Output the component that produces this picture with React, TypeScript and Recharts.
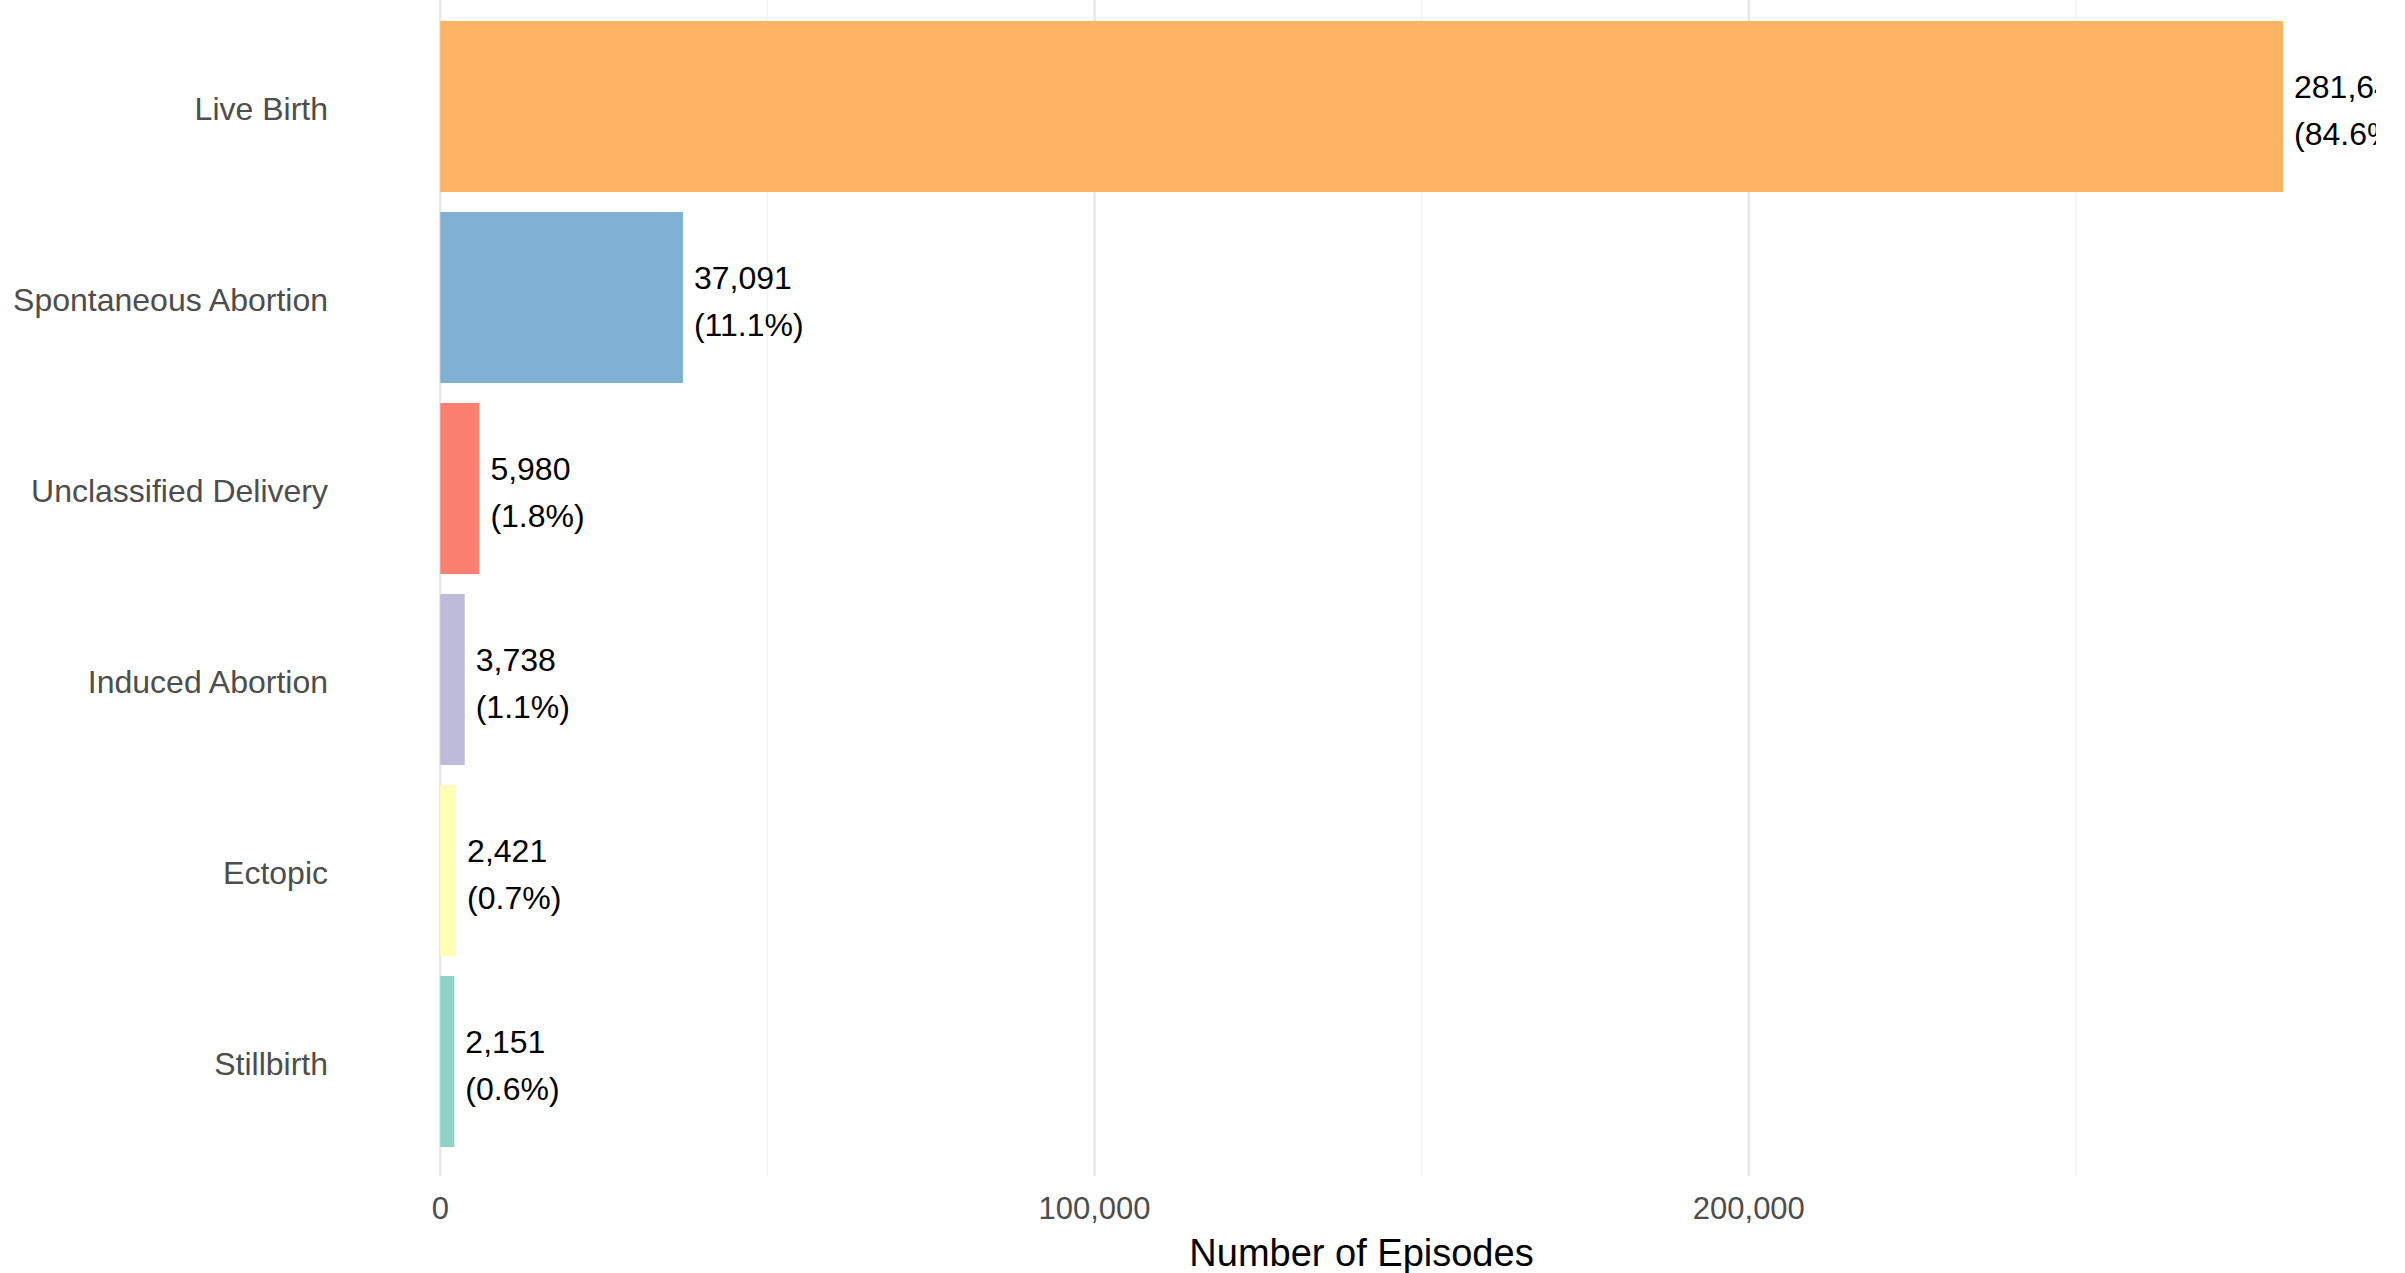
import { BarChart, Bar, XAxis, YAxis, CartesianGrid, Cell, LabelList } from 'recharts'

document.body.style.margin = '0'

const categories = ['Live Birth', 'Spontaneous Abortion', 'Unclassified Delivery', 'Induced Abortion', 'Ectopic', 'Stillbirth']
const episodes = [281642, 37091, 5980, 3738, 2421, 2151]
const percents = ['84.6%', '11.1%', '1.8%', '1.1%', '0.7%', '0.6%']
const barColors = ['#FDB462', '#80B1D3', '#FB8072', '#BEBADA', '#FFFFB3', '#8DD3C7']
const xTicks = [0, 50000, 100000, 150000, 200000, 250000]

const font = '"Liberation Sans", Arial, sans-serif'

const data = categories.map((name, i) => ({ name, episodes: episodes[i], pct: percents[i] }))

const fmt = (v: number) => v.toLocaleString('en-US')

// two-line value label to the right of each bar
const ValueLabel = (props: any) => {
  const { x, y, width, height, index } = props
  const cx = Number(x) + Number(width) + 11
  const cy = Number(y) + Number(height) / 2
  const row = data[index]
  return (
    <text fontFamily={font} fontSize={32} fill="#000">
      <tspan x={cx} y={cy - 9}>{fmt(row.episodes)}</tspan>
      <tspan x={cx} y={cy + 38}>({row.pct})</tspan>
    </text>
  )
}

// major gridlines a bit darker than minor ones (ticks alternate major/minor)
const GridLine = (props: any) => {
  const { x1, x2, y1, y2, index } = props
  const minor = xTicks[index] % 100000 !== 0
  return (
    <line
      key={`g-${index}`}
      x1={x1}
      x2={x2}
      y1={y1}
      y2={y2}
      stroke={minor ? '#F2F2F2' : '#E8E8E8'}
      strokeWidth={minor ? 1.5 : 2.5}
    />
  )
}

export default function App() {
  return (
    <BarChart
      width={2376}
      height={1273}
      data={data}
      layout="vertical"
      margin={{ top: 0, right: 1, bottom: 0, left: 0 }}
    >
      <CartesianGrid horizontal={false} vertical={GridLine} syncWithTicks />
      <XAxis
        type="number"
        dataKey="episodes"
        domain={[-14100, 295700]}
        ticks={xTicks}
        interval={0}
        allowDataOverflow
        tickFormatter={(v: number) => (v % 100000 === 0 ? fmt(v) : '')}
        axisLine={false}
        tickLine={false}
        tickSize={0}
        tickMargin={21}
        height={97}
        tick={{ fill: '#4D4D4D', fontSize: 31, fontFamily: font }}
        label={{ value: 'Number of Episodes', position: 'insideBottom', offset: 7, fill: '#000', fontSize: 38, fontFamily: font }}
      />
      <YAxis
        type="category"
        dataKey="name"
        width={348}
        axisLine={false}
        tickLine={false}
        tickSize={0}
        tickMargin={20}
        padding={{ top: 11, bottom: 19 }}
        tick={{ fill: '#4D4D4D', fontSize: 32, fontFamily: font, dy: 2 }}
      />
      <Bar dataKey="episodes" barSize={171} isAnimationActive={false}>
        {data.map((d, i) => (
          <Cell key={d.name} fill={barColors[i]} />
        ))}
        <LabelList dataKey="episodes" content={ValueLabel} />
      </Bar>
    </BarChart>
  )
}
